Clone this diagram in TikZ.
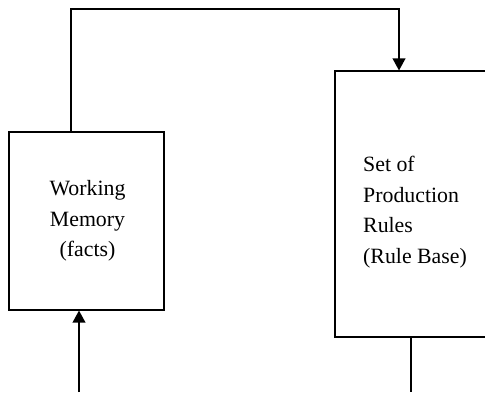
\documentclass[tikz,border=0pt]{standalone}
\usepackage{fontspec}
\setmainfont{Liberation Serif}
\usetikzlibrary{arrows.meta}
\begin{document}
\begin{tikzpicture}[x=0.55pt,y=-0.55pt]
\tikzstyle{every node}+=[inner sep=0pt]
\tikzstyle{box}=[draw=black, line width=0.6pt, rectangle]
\tikzstyle{txt}=[font=\fontsize{12}{16.8}\selectfont]
\tikzstyle{flow}=[black, line width=0.8pt, -{Triangle[length=6.6pt,width=7pt]}]
\useasboundingbox (0,0) rectangle (485,392);
\clip (0,0) rectangle (485,392);
\node [box, minimum width=85.25pt, minimum height=97.9pt] (wm) at (86.5,221) {};
\node [txt, align=center] (wmtext) at (87.5,221) {Working\\Memory\\(facts)};
\node [box, minimum width=88pt, minimum height=146.3pt] (rules) at (415,204) {};
\node [txt, align=left] (rulestext) at (415,212) {Set of\\Production\\Rules\\(Rule Base)};
\coordinate (top) at (399,9);
\coordinate (in) at (79,392);
\coordinate (out) at (411,392);
\draw [flow] ([xshift=-8.5pt]wm.north) |- (top) -- (top |- rules.north);
\draw [flow] (in) -- (in |- wm.south);
\draw [black, line width=0.8pt] (out |- rules.south) -- (out);
\end{tikzpicture}
\end{document}
